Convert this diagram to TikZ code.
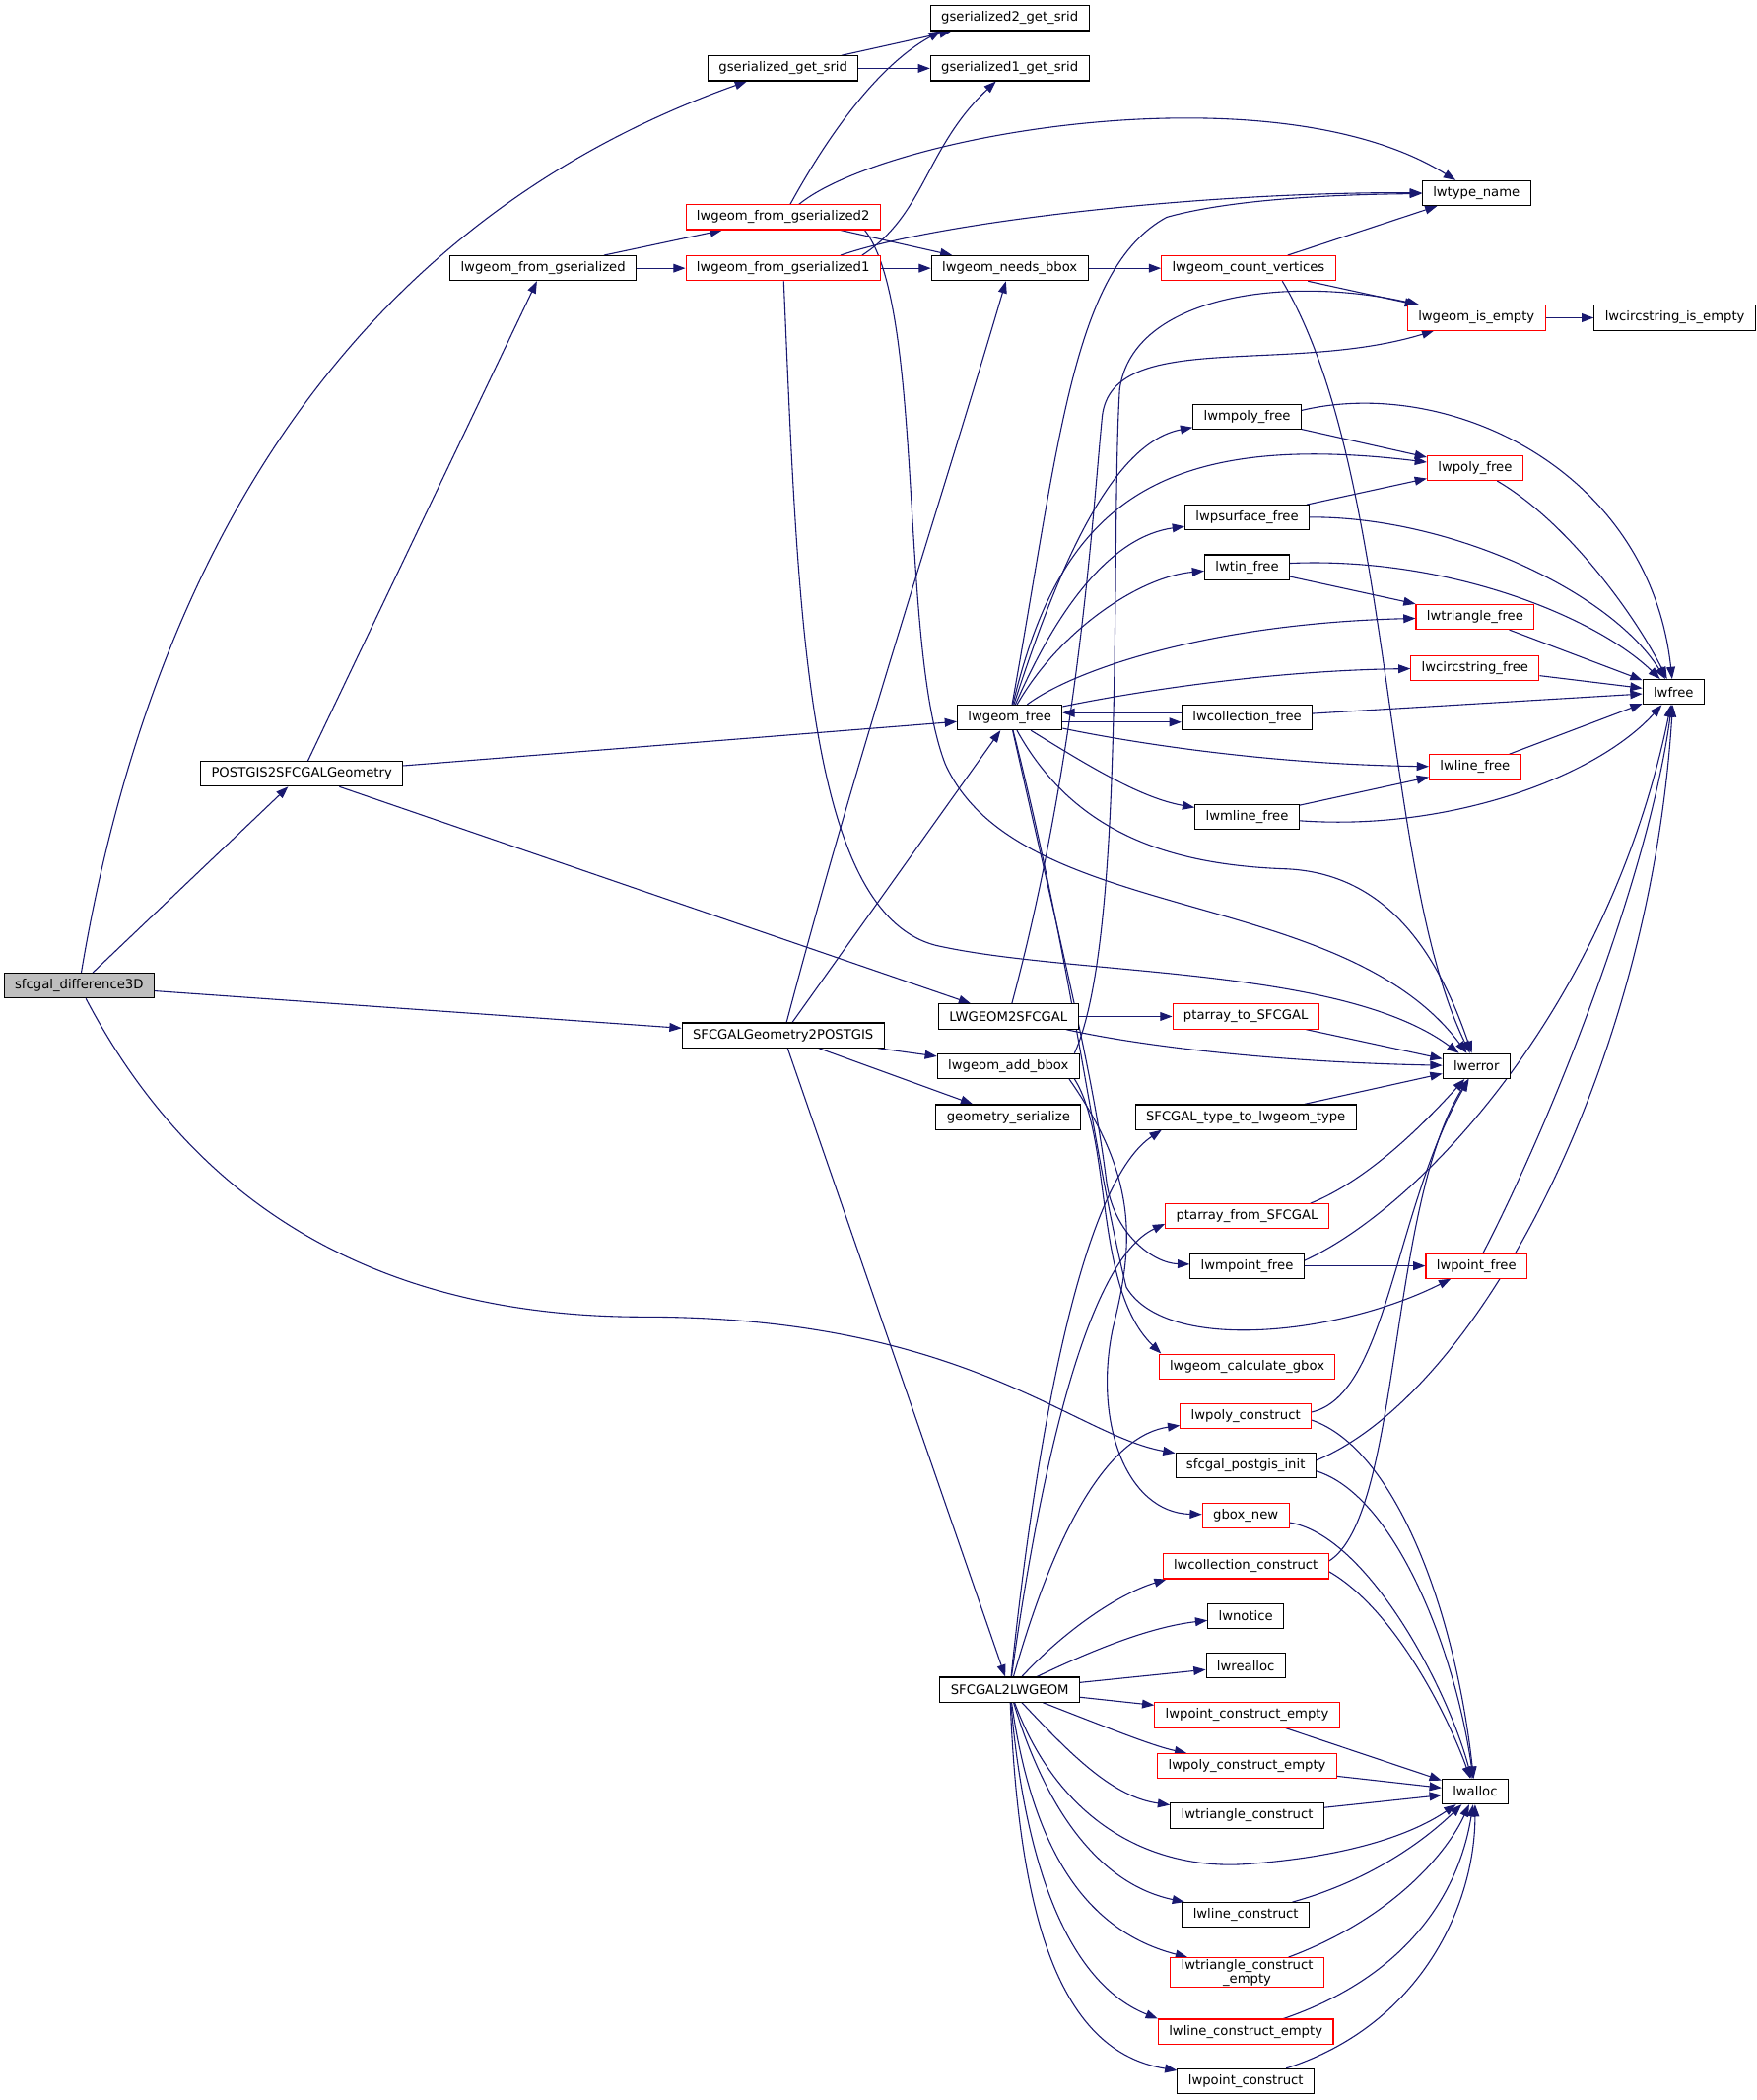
\documentclass[tikz,border=0pt]{standalone}
\usepackage{fontspec}
\setmainfont{DejaVu Sans}
\usetikzlibrary{arrows.meta,backgrounds}
\definecolor{edgeblue}{HTML}{191970}
\definecolor{boxred}{HTML}{FF0000}
\definecolor{rootgray}{HTML}{BFBFBF}

\begin{document}
\begin{tikzpicture}
[x=1pt,y=-1pt,
  funcDecorate/.style={shape=rectangle,draw=black,fill=white,line width=0.8pt,minimum height=18.5pt,inner xsep=8pt,inner ysep=1pt,align=center,font=\fontsize{9.7}{10.5}\selectfont},
  warnDecorate/.style={funcDecorate,draw=boxred},
  rootDecorate/.style={funcDecorate,fill=rootgray},
  callDecorate/.style={draw=edgeblue,line width=0.8pt,-{Triangle[length=9pt,width=6.5pt]}}]
\useasboundingbox (0,0) rectangle (1310,1566);
%% the function that is graphed
\node (diff) at (59,735) [rootDecorate] {sfcgal\_difference3D};
%% documented functions
\foreach \nodename/\x/\y/\txt in {getsrid/584/51/gserialized\_get\_srid,
    gsridtwo/753/13.5/gserialized2\_get\_srid, gsridone/753/51/gserialized1\_get\_srid,
    fromgser/405/200/lwgeom\_from\_gserialized, typename/1101/144/lwtype\_name,
    needsbbox/753/200/lwgeom\_needs\_bbox, circempty/1249/237/lwcircstring\_is\_empty,
    mpolyfree/930/311/lwmpoly\_free, psurffree/930/386/lwpsurface\_free,
    tinfree/930/423/lwtin\_free, lwfree/1248/516/lwfree, geomfree/753/535/lwgeom\_free,
    collfree/930/535/lwcollection\_free, mlinefree/930/609/lwmline\_free,
    pgtosfcgal/225/577/POSTGIS2SFCGALGeometry, lwtosfcgal/752/758/LWGEOM2SFCGAL,
    lwerror/1101/795/lwerror, sfcgaltopg/584/772/SFCGALGeometry2POSTGIS,
    addbbox/752/795/lwgeom\_add\_bbox, geomser/752/833/geometry\_serialize,
    typeconv/929/833/SFCGAL\_type\_to\_lwgeom\_type, mpointfree/930/944/lwmpoint\_free,
    init/929/1093/sfcgal\_postgis\_init, lwnotice/929/1205/lwnotice,
    lwrealloc/929/1242/lwrealloc, sfcgaltolw/753/1260/SFCGAL2LWGEOM,
    lwalloc/1100/1336/lwalloc, tricons/930/1354/lwtriangle\_construct,
    linecons/929/1428/lwline\_construct, pointcons/929/1552/lwpoint\_construct} {
  \node (\nodename) at (\x,\y) [funcDecorate] {\txt};
}
%% functions with truncated graphs
\foreach \nodename/\x/\y/\txt in {fromgtwo/584/162/lwgeom\_from\_gserialized2,
    fromgone/584/200/lwgeom\_from\_gserialized1, countvert/931/200/lwgeom\_count\_vertices,
    isempty/1101/237/lwgeom\_is\_empty, polyfree/1100/349/lwpoly\_free,
    trifree/1100/460/lwtriangle\_free, circfree/1100/498/lwcircstring\_free,
    linefree/1100/572/lwline\_free, pato/929/758/ptarray\_to\_SFCGAL,
    pafrom/930/907/ptarray\_from\_SFCGAL, pointfree/1101/944/lwpoint\_free,
    calcgbox/930/1019/lwgeom\_calculate\_gbox, polycons/929/1056/lwpoly\_construct,
    gboxnew/929/1130/gbox\_new, collcons/929/1168/lwcollection\_construct,
    pointempty/930/1279/lwpoint\_construct\_empty, polyempty/930/1317/lwpoly\_construct\_empty,
    triempty/930/1471/lwtriangle\_construct\\\_empty, lineempty/929/1515/lwline\_construct\_empty} {
  \node (\nodename) at (\x,\y) [warnDecorate] {\txt};
}
\begin{scope}[on background layer]
%% straight calls
\path
\foreach \startnode/\endnode in {diff/pgtosfcgal, diff/sfcgaltopg, pgtosfcgal/fromgser,
    pgtosfcgal/geomfree, pgtosfcgal/lwtosfcgal, fromgser/fromgtwo, fromgser/fromgone,
    getsrid/gsridtwo, getsrid/gsridone, fromgtwo/needsbbox, fromgone/needsbbox,
    needsbbox/countvert, countvert/typename, countvert/isempty, isempty/circempty,
    mpolyfree/polyfree, psurffree/polyfree, tinfree/trifree, trifree/lwfree,
    circfree/lwfree, collfree/lwfree, linefree/lwfree, mlinefree/linefree,
    lwtosfcgal/pato, pato/lwerror, sfcgaltopg/geomfree, sfcgaltopg/addbbox,
    sfcgaltopg/geomser, sfcgaltopg/sfcgaltolw, typeconv/lwerror, mpointfree/pointfree,
    sfcgaltolw/lwrealloc, sfcgaltolw/pointempty, pointempty/lwalloc,
    polyempty/lwalloc, tricons/lwalloc} {
  (\startnode) edge[callDecorate] (\endnode)
};
\draw[callDecorate] ([yshift=3.5pt]collfree.west) -- ([yshift=3.5pt]geomfree.east);
\draw[callDecorate] ([yshift=-3.5pt]geomfree.east) -- ([yshift=-3.5pt]collfree.west);
%% curved calls, upper part
\draw[callDecorate] (diff) .. controls (110,430) and (250,170) .. (getsrid);
\draw[callDecorate] (diff) .. controls (130,870) and (250,982) .. (480,982) .. controls (720,982) and (800,1070) .. (init);
\draw[callDecorate] (fromgtwo) .. controls (640,60) and (680,35) .. ([xshift=8pt]gsridtwo.south west);
\draw[callDecorate] (fromgtwo) .. controls (660,100) and (950,50) .. (typename);
\draw[callDecorate] ([xshift=-12pt]fromgtwo.south east) .. controls (690,230) and (670,480) .. (705,570) .. controls (760,690) and (1000,660) .. (lwerror);
\draw[callDecorate] ([xshift=-14pt]fromgone.north east) .. controls (690,160) and (690,110) .. (gsridone);
\draw[callDecorate] ([xshift=-30pt]fromgone.north east) .. controls (700,165) and (900,143) .. (typename);
\draw[callDecorate] (fromgone) .. controls (595,450) and (600,680) .. (698,705) .. controls (800,728) and (1000,720) .. (lwerror);
\draw[callDecorate] ([xshift=-40pt]countvert.south east) .. controls (1040,350) and (1030,650) .. (lwerror);
\draw[callDecorate] (geomfree) .. controls (790,330) and (800,200) .. (870,162) .. controls (920,148) and (1000,145) .. (typename);
\draw[callDecorate] (geomfree) .. controls (790,420) and (830,330) .. (mpolyfree);
\draw[callDecorate] (geomfree) .. controls (790,380) and (860,320) .. (polyfree);
\draw[callDecorate] (geomfree) .. controls (790,450) and (830,400) .. (psurffree);
\draw[callDecorate] (geomfree) .. controls (790,470) and (850,430) .. (tinfree);
\draw[callDecorate] (geomfree) .. controls (800,500) and (900,465) .. (trifree);
\draw[callDecorate] (geomfree) .. controls (850,515) and (950,500) .. (circfree);
\draw[callDecorate] (geomfree) .. controls (850,555) and (950,570) .. (linefree);
\draw[callDecorate] (geomfree) .. controls (810,570) and (850,595) .. (mlinefree);
\draw[callDecorate] (geomfree) .. controls (800,620) and (870,645) .. (960,648) .. controls (1040,652) and (1075,720) .. (lwerror);
\draw[callDecorate] (geomfree) .. controls (790,700) and (815,800) .. (825,880) .. controls (830,920) and (860,942) .. (mpointfree);
\draw[callDecorate] (geomfree) .. controls (800,720) and (815,860) .. (840,960) .. controls (870,1010) and (1000,995) .. (pointfree);
\draw[callDecorate] (lwtosfcgal) .. controls (805,560) and (815,380) .. (822,310) .. controls (830,245) and (960,280) .. (isempty);
\draw[callDecorate] ([xshift=-4pt]addbbox.north east) .. controls (840,700) and (828,400) .. (835,290) .. controls (845,220) and (960,205) .. (isempty);
\draw[callDecorate] (lwtosfcgal) .. controls (850,780) and (950,792) .. (lwerror);
\draw[callDecorate] (sfcgaltopg) .. controls (640,560) and (700,380) .. (needsbbox);
%% lwfree callers
\draw[callDecorate] ([yshift=5pt]mpolyfree.east) .. controls (1080,280) and (1230,350) .. (lwfree);
\draw[callDecorate] (polyfree) .. controls (1170,390) and (1220,460) .. (lwfree);
\draw[callDecorate] (psurffree) .. controls (1080,385) and (1200,440) .. (lwfree);
\draw[callDecorate] ([yshift=3pt]tinfree.east) .. controls (1080,415) and (1190,460) .. (lwfree);
\draw[callDecorate] ([yshift=-3pt]mlinefree.east) .. controls (1080,620) and (1190,580) .. (lwfree);
\draw[callDecorate] ([yshift=4pt]mpointfree.east) .. controls (1060,900) and (1200,750) .. (lwfree);
\draw[callDecorate] (pointfree) .. controls (1160,830) and (1230,650) .. (lwfree);
\draw[callDecorate] ([yshift=4pt]init.east) .. controls (1100,1040) and (1230,800) .. (lwfree);
%% curved calls, lower part
\draw[callDecorate] ([xshift=-4pt]addbbox.south east) .. controls (830,850) and (815,960) .. ([xshift=2pt]calcgbox.north west);
\draw[callDecorate] ([xshift=-8pt]addbbox.south east) .. controls (850,880) and (845,930) .. (830,990) .. controls (815,1060) and (840,1128) .. (gboxnew);
\draw[callDecorate] (sfcgaltolw) .. controls (775,1050) and (810,880) .. ([xshift=20pt]typeconv.south west);
\draw[callDecorate] (sfcgaltolw) .. controls (775,1100) and (810,940) .. ([yshift=4pt]pafrom.south west);
\draw[callDecorate] (sfcgaltolw) .. controls (790,1130) and (830,1070) .. (polycons);
\draw[callDecorate] (sfcgaltolw) .. controls (790,1220) and (830,1190) .. ([xshift=3pt]collcons.south west);
\draw[callDecorate] (sfcgaltolw) .. controls (820,1228) and (860,1213) .. (lwnotice);
\draw[callDecorate] (sfcgaltolw) .. controls (830,1290) and (860,1302) .. (polyempty);
\draw[callDecorate] (sfcgaltolw) .. controls (800,1310) and (830,1340) .. (tricons);
\draw[callDecorate] (sfcgaltolw) .. controls (790,1360) and (860,1395) .. (930,1390) .. controls (1000,1385) and (1050,1370) .. (lwalloc);
\draw[callDecorate] (sfcgaltolw) .. controls (780,1350) and (820,1405) .. (linecons);
\draw[callDecorate] (sfcgaltolw) .. controls (770,1380) and (810,1440) .. (triempty);
\draw[callDecorate] (sfcgaltolw) .. controls (765,1400) and (800,1480) .. (lineempty.north west);
\draw[callDecorate] (sfcgaltolw) .. controls (760,1430) and (790,1530) .. (pointcons);
\draw[callDecorate] ([xshift=-14pt]pafrom.north east) .. controls (1020,880) and (1060,840) .. (lwerror);
\draw[callDecorate] ([yshift=3pt]polycons.east) .. controls (1035,1040) and (1040,900) .. (lwerror);
\draw[callDecorate] ([yshift=-3pt]polycons.east) .. controls (1040,1080) and (1085,1200) .. (lwalloc);
\draw[callDecorate] ([yshift=4pt]collcons.east) .. controls (1045,1130) and (1035,900) .. (lwerror);
\draw[callDecorate] ([yshift=-4pt]collcons.east) .. controls (1040,1200) and (1080,1280) .. (lwalloc);
\draw[callDecorate] ([yshift=-4pt]init.east) .. controls (1040,1115) and (1085,1230) .. (lwalloc);
\draw[callDecorate] (gboxnew) .. controls (1020,1145) and (1080,1260) .. (lwalloc);
\draw[callDecorate] (linecons) .. controls (1030,1400) and (1070,1365) .. (lwalloc);
\draw[callDecorate] (triempty) .. controls (1040,1430) and (1080,1380) .. (lwalloc);
\draw[callDecorate] (lineempty) .. controls (1060,1470) and (1090,1400) .. (lwalloc);
\draw[callDecorate] (pointcons) .. controls (1060,1510) and (1100,1420) .. (lwalloc);
\end{scope}
\end{tikzpicture}
\end{document}
